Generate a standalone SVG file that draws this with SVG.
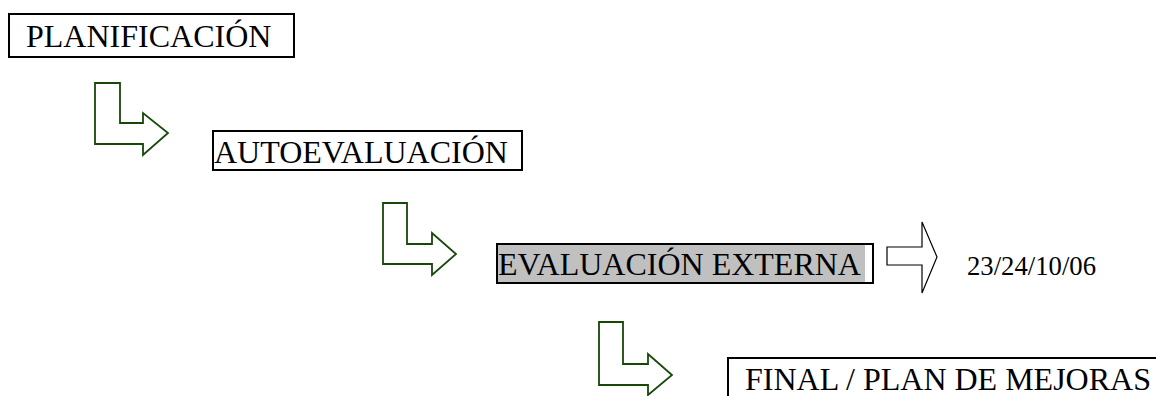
<svg xmlns="http://www.w3.org/2000/svg" width="1156" height="396" viewBox="0 0 1156 396">
<style>
.box{fill:none;stroke:#000;stroke-width:2}
.t{font-family:"Liberation Serif","Times New Roman",serif;font-size:32px;fill:#000}
.d{font-family:"Liberation Serif","Times New Roman",serif;font-size:26.7px;fill:#000}
.ga{fill:none;stroke:#174808;stroke-width:1.8;stroke-linejoin:miter}
.ba{fill:none;stroke:#000;stroke-width:1.2}
</style>
<rect width="1156" height="396" fill="#fff"/>
<g id="planificacion">
<rect class="box" x="9" y="14" width="285" height="43"/>
<text class="t" x="26" y="47">PLANIFICACIÓN</text>
</g>
<g id="autoevaluacion">
<rect class="box" x="213" y="131" width="309" height="39"/>
<text class="t" x="214" y="163">AUTOEVALUACIÓN</text>
</g>
<g id="evaluacion-externa">
<rect x="498" y="245" width="367" height="37" fill="#c0c0c0"/>
<rect class="box" x="497" y="244" width="376" height="39"/>
<text class="t" x="498" y="275">EVALUACIÓN EXTERNA</text>
</g>
<g id="fecha">
<text class="d" x="967" y="275">23/24/10/06</text>
</g>
<g id="final">
<rect class="box" x="728" y="358" width="500" height="100"/>
<text class="t" x="745" y="390">FINAL / PLAN DE MEJORAS</text>
</g>
<g id="connectors">
<polygon class="ga" points="95,83 120,83 120,123 143,123 143,113 168,133 143,155 143,144 95,144"/>
<polygon class="ga" points="383,203 407,203 407,244 432,244 432,233 456,254 432,275 432,264 383,264"/>
<polygon class="ga" points="599,322 623,322 623,364 648,364 648,354 672,375 648,395 648,385 599,385"/>
<polygon class="ba" points="887,247 922,247 922,222 937,257 922,293 922,265 887,265"/>
</g>
</svg>
